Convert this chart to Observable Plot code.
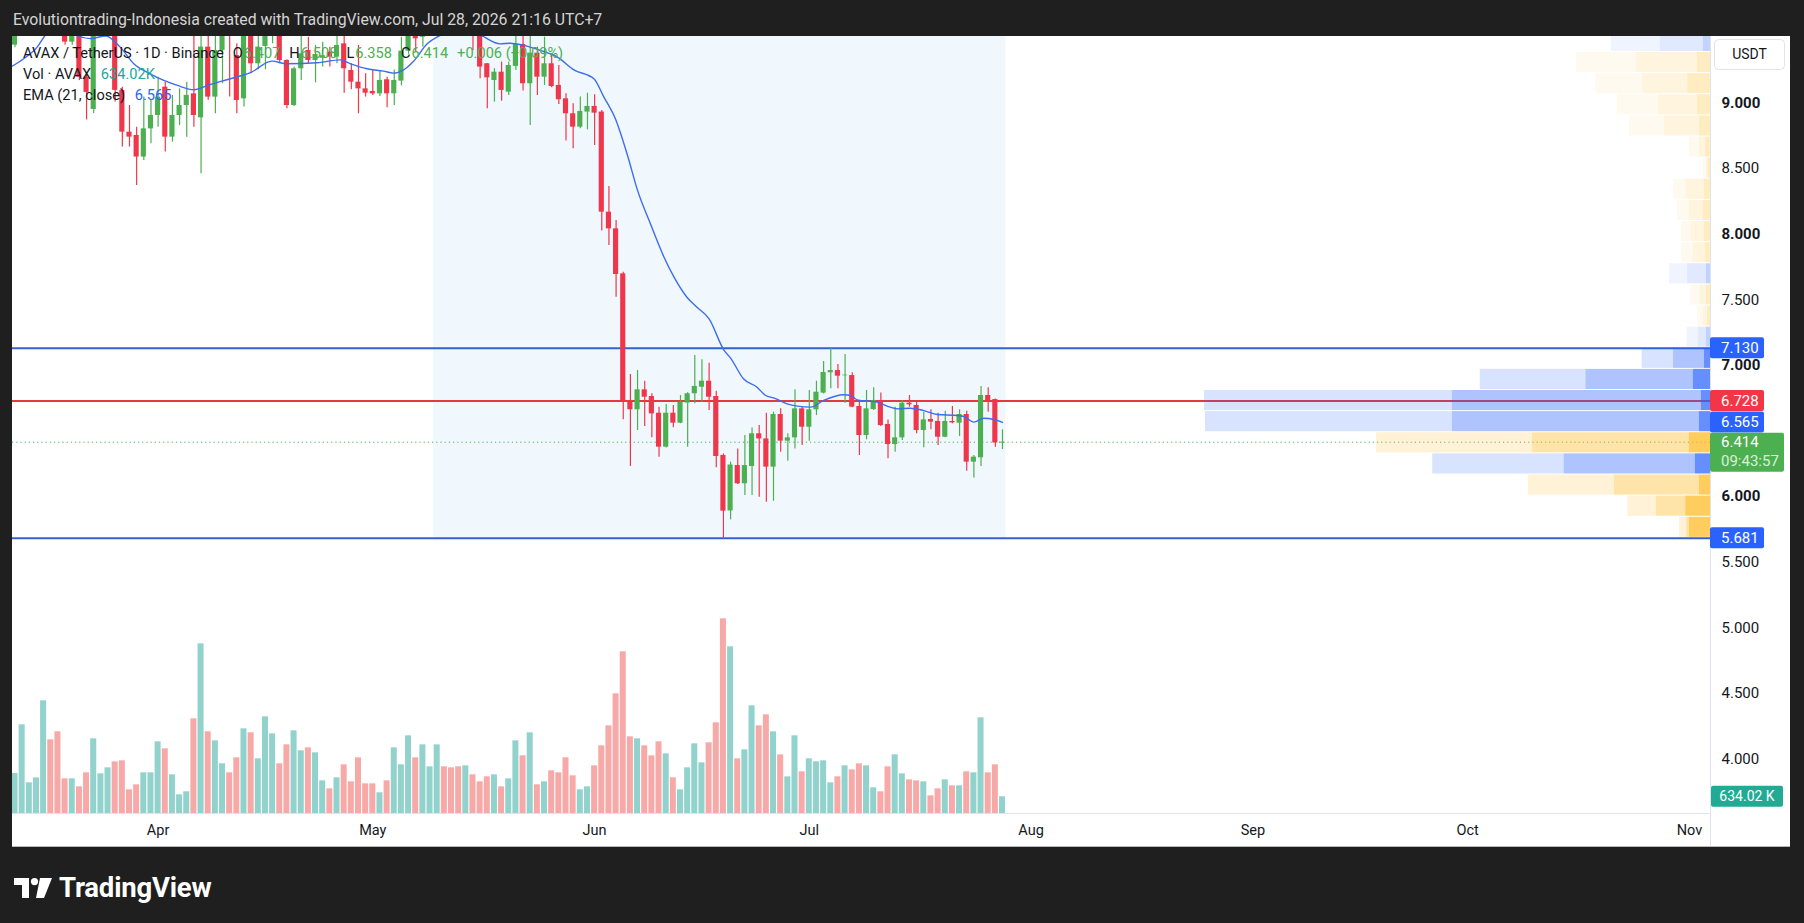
<!DOCTYPE html>
<html>
<head>
<meta charset="utf-8">
<script src="https://cdn.jsdelivr.net/npm/d3@7"></script>
<script src="https://cdn.jsdelivr.net/npm/@observablehq/plot@0.6"></script>
<style>
  html, body { margin:0; padding:0; background:#1f1f1f; }
  body { width:1804px; height:923px; position:relative; overflow:hidden; font-family: Roboto, "Noto Sans", "DejaVu Sans", sans-serif; }
  #hdr { position:absolute; left:13px; top:10px; font-size:15.8px; line-height:20px; color:#d4d4d4; white-space:nowrap; }
  #panel { position:absolute; left:12px; top:36px; width:1778px; height:811px; background:#fff; overflow:hidden; }
  #chart { position:absolute; left:0; top:0; }
  #legend { position:absolute; left:11px; top:7px; font-size:14.6px; line-height:21px; color:#131722; white-space:nowrap; }
  #legend .k { margin-left:9px; margin-right:1px; }
  #logo { position:absolute; left:14px; top:871px; display:flex; align-items:center; gap:7px; color:#fff; font-weight:700; font-size:27.5px; letter-spacing:-0.2px; }
</style>
</head>
<body>
<div id="hdr">Evolutiontrading-Indonesia created with TradingView.com, Jul 28, 2026 21:16 UTC+7</div>
<div id="panel">
  <div id="chart"></div>
  <div id="legend"></div>
</div>
<div id="logo">
  <svg width="38" height="20" viewBox="0 0 38 20"><path d="M0 0H15V20H8V7H0Z" fill="#fff"/><circle cx="20.5" cy="3.6" r="3.6" fill="#fff"/><path d="M26 0H38L30 20H22Z" fill="#fff"/></svg>
  <span>TradingView</span>
</div>
<script>
// ---------- data (AVAX / TetherUS, 1D, Binance) ----------
const firstDay = "2026-03-12";
const opens = [
 9.44,9.60,9.72,9.86,9.98,10.22,9.98,9.68,9.463,9.58,
 9.196,8.95,9.58,9.70,9.74,9.095,8.777,8.752,8.587,8.802,
 8.904,9.120,8.739,8.904,8.980,9.069,8.886,9.425,9.044,9.40,
 9.70,9.361,9.031,9.56,9.298,9.43,9.56,9.65,9.323,8.980,
 9.260,9.400,9.323,9.34,9.387,9.349,9.450,9.247,9.158,9.107,
 9.087,9.069,9.176,9.069,9.166,9.394,9.60,9.50,9.60,9.75,
 9.88,9.78,9.70,9.64,9.76,9.62,9.298,9.171,9.234,9.082,
 9.278,9.445,9.146,9.379,9.196,9.298,9.133,9.031,8.917,8.815,
 8.930,8.973,8.930,8.167,8.040,7.697,6.727,6.661,6.813,6.762,
 6.635,6.376,6.635,6.559,6.712,6.783,6.833,6.879,6.762,6.313,
 5.890,6.236,6.097,6.229,6.478,6.439,6.224,6.625,6.422,6.447,
 6.668,6.528,6.661,6.788,6.943,6.960,6.920,6.922,6.686,6.465,
 6.663,6.732,6.549,6.396,6.447,6.711,6.694,6.503,6.587,6.572,
 6.452,6.572,6.559,6.625,6.262,6.295,6.770,6.739,6.407];
const highs = [
 9.65,9.78,9.92,10.05,10.30,10.28,10.02,9.72,9.66,9.64,
 9.21,9.65,9.80,9.85,9.78,9.12,8.980,8.815,9.044,9.018,
 9.196,9.158,9.057,9.107,9.158,9.53,9.55,9.55,9.53,9.72,
 9.78,9.45,9.62,9.62,9.53,9.65,9.75,9.70,9.328,9.273,
 9.53,9.50,9.438,9.463,9.425,9.53,9.54,9.298,9.438,9.222,
 9.247,9.247,9.196,9.25,9.50,9.65,9.70,9.68,9.85,9.95,
 9.96,9.84,9.76,9.82,9.80,9.65,9.30,9.260,9.311,9.311,
 9.514,9.53,9.53,9.425,9.501,9.374,9.285,9.069,8.993,9.044,
 9.074,9.062,8.942,8.363,8.104,7.710,6.930,6.961,6.879,6.783,
 6.681,6.701,6.694,6.770,6.790,7.075,7.042,7.016,6.803,6.325,
 6.262,6.363,6.465,6.523,6.541,6.635,6.643,6.668,6.478,6.813,
 6.681,6.808,6.879,7.029,7.130,7.006,7.082,6.943,6.732,6.808,
 6.828,6.788,6.584,6.681,6.732,6.770,6.719,6.643,6.661,6.635,
 6.650,6.686,6.661,6.650,6.312,6.838,6.828,6.744,6.508];
const lows = [
 9.42,9.55,9.66,9.80,9.92,9.90,9.62,9.44,9.44,9.17,
 8.87,8.92,9.50,9.58,9.006,8.663,8.663,8.371,8.561,8.688,
 8.815,8.625,8.701,8.828,8.739,8.815,8.460,9.02,8.917,9.146,
 9.044,8.917,8.968,9.222,9.252,9.252,9.45,9.298,8.955,8.973,
 9.171,9.30,9.153,9.273,9.273,9.298,9.074,9.100,8.917,9.044,
 9.057,9.049,8.963,8.980,9.13,9.37,9.387,9.425,9.55,9.66,
 9.70,9.62,9.55,9.58,9.40,9.184,8.955,9.006,9.013,9.057,
 9.247,9.090,8.828,9.057,9.133,9.115,8.988,8.709,8.650,8.802,
 8.795,8.675,8.023,7.913,7.519,6.585,6.229,6.503,6.534,6.447,
 6.300,6.370,6.524,6.555,6.376,6.707,6.719,6.656,6.219,5.681,
 5.822,6.092,6.008,6.008,5.995,5.957,5.964,6.338,6.269,6.363,
 6.389,6.422,6.617,6.782,6.821,6.821,6.711,6.676,6.312,6.432,
 6.655,6.534,6.287,6.338,6.427,6.681,6.478,6.371,6.508,6.389,
 6.447,6.554,6.457,6.193,6.142,6.229,6.643,6.376,6.358];
const closes = [
 9.60,9.72,9.86,9.98,10.22,9.98,9.68,9.463,9.58,9.196,
 9.08,9.58,9.72,9.76,9.095,8.777,8.739,8.587,8.802,8.904,
 9.044,8.739,8.904,8.980,9.057,8.904,9.425,9.044,9.400,9.62,
 9.56,9.018,9.56,9.298,9.425,9.56,9.68,9.323,8.980,9.260,
 9.374,9.323,9.369,9.36,9.349,9.438,9.260,9.158,9.107,9.074,
 9.069,9.171,9.069,9.171,9.394,9.58,9.488,9.60,9.75,9.88,
 9.78,9.70,9.64,9.76,9.62,9.273,9.191,9.234,9.095,9.285,
 9.445,9.146,9.379,9.196,9.298,9.125,9.024,8.917,8.815,8.935,
 8.973,8.922,8.167,8.040,7.692,6.727,6.661,6.813,6.757,6.630,
 6.376,6.635,6.559,6.719,6.783,6.839,6.879,6.757,6.305,5.888,
 6.240,6.097,6.236,6.478,6.439,6.224,6.625,6.422,6.447,6.668,
 6.528,6.661,6.795,6.945,6.960,6.917,6.925,6.681,6.465,6.668,
 6.732,6.541,6.396,6.447,6.711,6.699,6.503,6.584,6.567,6.452,
 6.572,6.561,6.625,6.262,6.300,6.770,6.724,6.408,6.414];
// volume in thousands of AVAX
const volumes = [
 1519,3367,1164,1354,4278,2797,3101,1316,1316,1013,
 1544,2835,1506,1734,1962,2000,899,1089,1544,1544,
 2721,2455,1468,709,823,3595,6442,3101,2759,1886,
 1544,2114,3215,3063,2076,3671,3025,1886,2607,3139,
 2380,2493,2304,1240,937,1354,1848,1202,2114,1126,
 1126,785,1240,2493,1848,2949,2114,2607,1772,2607,
 1772,1734,1772,1810,1468,1202,1392,1468,1013,1316,
 2759,2190,3063,1089,1202,1620,1544,2114,1430,899,
 1013,1810,2569,3329,4544,6139,2911,2835,2569,2190,
 2721,2266,1354,899,1734,2645,1924,2683,3443,7392,
 6329,2076,2417,4088,3329,3746,3101,2228,1392,2949,
 1582,2076,1962,2000,1164,1392,1810,1658,1886,1810,
 975,823,1772,2228,1506,1278,1240,1202,671,937,
 1278,1051,1051,1582,1544,3633,1544,1848,634.02];
// EMA(21, close): day offset from Apr 1, value
const emaDay = [-20.6,-18.8,-16.9,-15.7,-14,-12.5,-11.3,-9.5,-7.3,-5.3,-3.4,-1.1,0.8,2.7,5.0,7.3,10.1,12.9,15.9,18.0,
 22.2,25.5,26.9,29.2,31.5,32.9,34.3,35.7,37.6,39.7,42,45.1,47.8,49.2,51.1,53.4,55.8,58.1,60.9,62.3,
 63.9,65.6,67.0,68.8,70.7,72.1,73.9,75.3,77.0,79.1,80.0,81.8,83.7,84.9,86.0,87.9,89.3,91.2,93.0,95.8,
 96.8,97.7,100.5,102.3,103.3,105.1,107.0,108.9,111.7,112.6,114.0,115.4,116.8,118.0];
const emaVal = [9.273,9.336,9.425,9.52,9.58,9.56,9.515,9.49,9.51,9.425,9.298,9.222,9.171,9.133,9.100,9.140,9.184,9.230,9.318,9.298,
 9.306,9.328,9.298,9.260,9.242,9.227,9.252,9.318,9.450,9.522,9.57,9.514,9.45,9.455,9.438,9.400,9.349,9.252,9.184,9.044,
 8.879,8.599,8.333,8.078,7.824,7.672,7.519,7.443,7.354,7.113,7.055,6.897,6.833,6.770,6.752,6.706,6.689,6.681,6.732,6.775,
 6.770,6.737,6.719,6.681,6.668,6.673,6.655,6.625,6.617,6.610,6.567,6.597,6.587,6.565];
// horizontal levels
const levelValues = [7.130, 6.728, 5.681];
const levelKinds = ["blue", "red", "blue"];
// fixed range volume profile (24 rows, bottom to top), widths in % of the largest row
const rangeFrom = "2026-05-10", rangeTo = "2026-07-28";
const rangeLow = 5.681, rangeHigh = 9.545;
const profileTotal = [6.1,16.3,36.0,54.9,66.0,99.8,100,45.5,13.5,4.6,2.6,3.9,8.1,5.7,5.7,6.5,7.3,1.4,4.2,16.0,18.4,22.7,26.5,19.6];
const profileMid   = [4.7,10.7,19.0,28.9,35.2,51.0,51.0,24.6,7.3,2.4,1.4,2.0,4.5,3.4,3.8,4.2,4.9,0.8,2.2,9.1,10.3,13.4,14.6,9.9];
const profileInner = [4.2,4.9,2.2,3.0,4.2,2.2,1.8,3.4,1.2,0.8,0.6,0.8,0.8,1.0,1.2,1.4,1.2,0.4,1.0,2.2,2.6,4.5,2.6,1.4];
const profileSide  = ["d","d","d","u","d","u","u","u","u","u","d","d","u","d","d","d","d","d","d","d","d","d","d","u"];
const valueAreaRows = 9;
// axis ticks
const yTicks = [4, 4.5, 5, 5.5, 6, 7, 7.5, 8, 8.5, 9];
const yTicksBold = [6, 7, 8, 9];
const monthTicks = ["2026-04-01","2026-05-01","2026-06-01","2026-07-01","2026-08-01","2026-09-01","2026-10-01","2026-11-01"];
const countdown = "09:43:57";

// ---------- build ----------
const DAY = 864e5;
const UP = "#4caf50", DOWN = "#f0364a";
const t0 = new Date(firstDay + "T00:00:00Z").getTime();
const candles = opens.map((open, i) => ({
  date: new Date(t0 + i * DAY), open, high: highs[i], low: lows[i], close: closes[i],
  volume: volumes[i], up: closes[i] >= open
}));
const apr1 = Date.UTC(2026, 3, 1);
const xDomain = [new Date(apr1 - 20.35 * DAY), new Date(apr1 + 216.94 * DAY)];
const yDomain = [3.584, 9.506];
const W = 1778, H = 811, mR = 80, mB = 34;
const frameW = W - mR, frameH = H - mB;
const pricePerPx = (yDomain[1] - yDomain[0]) / frameH;
const volKPerPx = 37.97;
const volTop = v => yDomain[0] + (v / volKPerPx) * pricePerPx;
const shift = (d, k) => new Date(+d + k * DAY);

const ema = emaDay.map((d, i) => ({date: new Date(apr1 + d * DAY), value: emaVal[i]}));
const levels = levelValues.map((v, i) => ({value: v, color: levelKinds[i] === "red" ? "#e5393f" : "#3560d4"}));

const rowH = (rangeHigh - rangeLow) / profileTotal.length;
const spanDays = (xDomain[1] - xDomain[0]) / DAY;
const profDays = 0.298 * spanDays;
const endMs = +xDomain[1];
const profSegs = [];
profileTotal.forEach((tot, r) => {
  const lo = rangeLow + r * rowH, hi = lo + rowH;
  const va = r < valueAreaRows;
  const bounds = [tot, profileMid[r], profileInner[r], 0];
  const ops = va ? [0.18, 0.38, 0.72] : [0.07, 0.14, 0.28];
  for (let t = 0; t < 3; t++) {
    profSegs.push({
      lo, hi,
      x1: new Date(endMs - bounds[t] / 100 * profDays * DAY),
      x2: new Date(endMs - bounds[t + 1] / 100 * profDays * DAY),
      fill: profileSide[r] === "u" ? "#2962ff" : "#ffb91e",
      op: ops[t]
    });
  }
});

const range = [{x1: shift(new Date(rangeFrom + "T00:00:00Z"), -0.5), x2: shift(new Date(rangeTo + "T00:00:00Z"), 0.5), y1: rangeLow, y2: rangeHigh}];
const last = candles[candles.length - 1];
const prev = candles[candles.length - 2];

const fmt3 = d3.format(".3f");
const plot = Plot.plot({
  width: W, height: H,
  marginLeft: 0, marginRight: mR, marginTop: 0, marginBottom: mB,
  style: {background: "transparent", fontFamily: "Roboto, 'Noto Sans', sans-serif", overflow: "visible"},
  x: {type: "utc", domain: xDomain},
  y: {domain: yDomain},
  color: {type: "identity"},
  marks: [
    Plot.rect(range, {x1: "x1", x2: "x2", y1: "y1", y2: "y2", fill: "#2196f3", fillOpacity: 0.065, clip: true}),
    Plot.rect(candles, {
      x1: d => shift(d.date, -0.42), x2: d => shift(d.date, 0.42),
      y1: yDomain[0], y2: d => volTop(d.volume),
      fill: d => d.up ? "#26a69a" : "#ef5350", fillOpacity: 0.5
    }),
    Plot.ruleY(levels, {y: "value", stroke: "color", strokeWidth: 2}),
    Plot.ruleY([last.close], {stroke: UP, strokeWidth: 1, strokeDasharray: "1.2,3"}),
    Plot.rect(profSegs, {x1: "x1", x2: "x2", y1: "lo", y2: "hi", fill: "fill", fillOpacity: "op", insetBottom: 1, clip: true}),
    Plot.ruleX(candles, {x: "date", y1: "low", y2: "high", stroke: d => d.up ? UP : DOWN, strokeWidth: 1.2, clip: true}),
    Plot.rect(candles, {
      x1: d => shift(d.date, -0.36), x2: d => shift(d.date, 0.36),
      y1: "open", y2: "close", fill: d => d.up ? UP : DOWN, clip: true
    }),
    Plot.line(ema, {x: "date", y: "value", stroke: "#3d6cf0", strokeWidth: 1.4, curve: "monotone-x", clip: true}),
    Plot.axisY(yTicks.filter(v => !yTicksBold.includes(v)), {anchor: "right", tickSize: 0, tickPadding: 11, tickFormat: fmt3, fontSize: 15, fill: "#131722", label: null}),
    Plot.axisY(yTicksBold, {anchor: "right", tickSize: 0, tickPadding: 11, tickFormat: fmt3, fontSize: 15, fontWeight: 700, fill: "#131722", label: null}),
    Plot.axisX(monthTicks.map(s => new Date(s + "T00:00:00Z")), {anchor: "bottom", tickSize: 0, tickPadding: 11, tickFormat: d3.utcFormat("%b"), fontSize: 14.5, fill: "#131722", label: null})
  ]
});
document.getElementById("chart").appendChild(plot);

// ---------- overlays drawn with the plot's own scales ----------
const ys = plot.scale("y");
const svg = d3.select(plot);
const ov = svg.append("g").attr("font-family", "Roboto, 'Noto Sans', sans-serif").attr("text-anchor", "start");
ov.append("line").attr("x1", frameW + 0.5).attr("x2", frameW + 0.5).attr("y1", 0).attr("y2", H).attr("stroke", "#e0e3eb");
ov.append("line").attr("x1", 0).attr("x2", frameW).attr("y1", frameH + 0.5).attr("y2", frameH + 0.5).attr("stroke", "#e0e3eb");
ov.append("line").attr("x1", 0).attr("x2", W).attr("y1", H - 0.5).attr("y2", H - 0.5).attr("stroke", "#b8b8b8");

function tag(value, text, bg, w) {
  const cy = ys.apply(value);
  ov.append("rect").attr("x", frameW).attr("y", cy - 10.5).attr("width", w).attr("height", 21).attr("rx", 2).attr("fill", bg);
  ov.append("text").attr("x", frameW + 11).attr("y", cy).attr("dy", "0.35em").attr("font-size", 15).attr("fill", "#fff").text(text);
}
tag(levelValues[0], fmt3(levelValues[0]), "#2962ff", 54);
tag(levelValues[1], fmt3(levelValues[1]), "#f23645", 54);
tag(emaVal[emaVal.length - 1], fmt3(emaVal[emaVal.length - 1]), "#2962ff", 54);
tag(levelValues[2], fmt3(levelValues[2]), "#2962ff", 54);
// last price tag with countdown
{
  const cy = ys.apply(last.close);
  ov.append("rect").attr("x", frameW).attr("y", cy - 9).attr("width", 74).attr("height", 39).attr("rx", 2).attr("fill", UP);
  ov.append("text").attr("x", frameW + 11).attr("y", cy).attr("dy", "0.35em").attr("font-size", 15).attr("fill", "#fff").text(fmt3(last.close));
  ov.append("text").attr("x", frameW + 11).attr("y", cy + 19.5).attr("dy", "0.35em").attr("font-size", 15).attr("fill", "#dcefdc").text(countdown);
}
// volume tag
{
  const cy = ys.apply(volTop(last.volume));
  ov.append("rect").attr("x", frameW + 1).attr("y", cy - 10.5).attr("width", 72).attr("height", 21).attr("rx", 2).attr("fill", "#22ab94");
  ov.append("text").attr("x", frameW + 37).attr("y", cy).attr("dy", "0.35em").attr("text-anchor", "middle").attr("font-size", 14).attr("fill", "#fff").text(d3.format(".2f")(last.volume) + " K");
}
// currency box
ov.append("rect").attr("x", frameW + 4.5).attr("y", 3.5).attr("width", 70).attr("height", 30).attr("rx", 4).attr("fill", "#fff").attr("stroke", "#e0e3eb");
ov.append("text").attr("x", frameW + 39.5).attr("y", 18.5).attr("dy", "0.35em").attr("text-anchor", "middle").attr("font-size", 14).attr("fill", "#131722").text("USDT");

// ---------- legend ----------
const chg = last.close - prev.close;
const col = last.close >= last.open ? UP : DOWN;
const sgn = v => (v >= 0 ? "+" : "") ;
document.getElementById("legend").innerHTML =
  `<div>AVAX / TetherUS · 1D · Binance` +
  `<span class="k">O</span><span style="color:${col}">${fmt3(last.open)}</span>` +
  `<span class="k">H</span><span style="color:${col}">${fmt3(last.high)}</span>` +
  `<span class="k">L</span><span style="color:${col}">${fmt3(last.low)}</span>` +
  `<span class="k">C</span><span style="color:${col}">${fmt3(last.close)}</span>` +
  `<span style="color:${col};margin-left:9px">${sgn(chg)}${fmt3(chg)} (${sgn(chg)}${d3.format(".2f")(chg / prev.close * 100)}%)</span></div>` +
  `<div>Vol · AVAX <span style="color:#26a69a;margin-left:6px">${d3.format(".2f")(last.volume)}K</span></div>` +
  `<div>EMA (21, close) <span style="color:#2962ff;margin-left:6px">${fmt3(emaVal[emaVal.length - 1])}</span></div>`;
</script>
</body>
</html>
